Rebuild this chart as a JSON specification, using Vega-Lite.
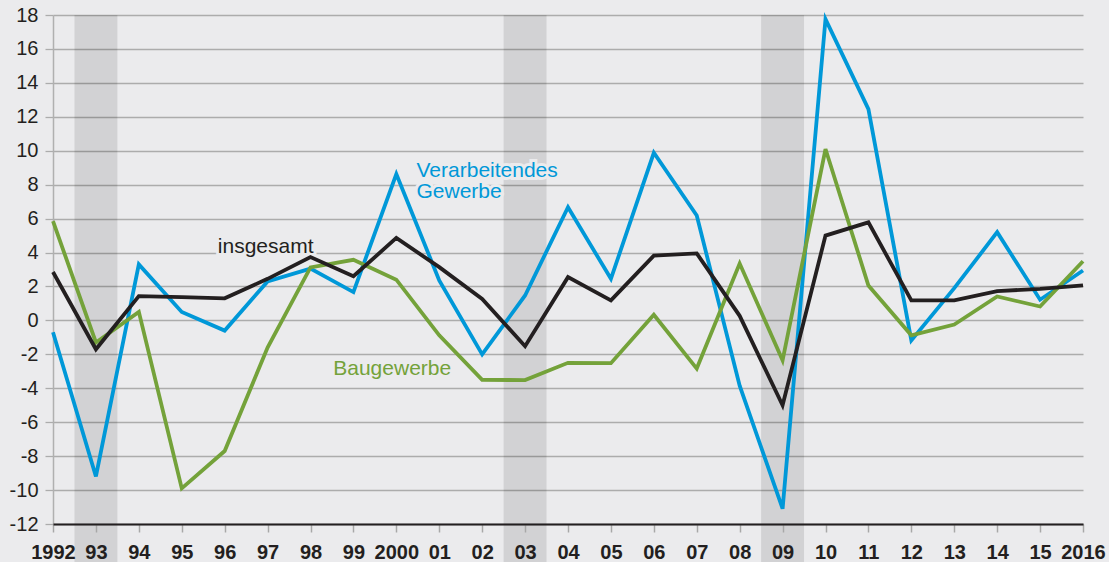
{
  "$schema": "https://vega.github.io/schema/vega-lite/v6.json",
  "width": 1030,
  "height": 509,
  "autosize": {"type": "none"},
  "padding": {"left": 53, "top": 15, "right": 26, "bottom": 38},
  "background": "#ebebed",
  "config": {
    "view": {"stroke": null, "fill": null},
    "font": "Liberation Sans",
    "text": {"font": "Liberation Sans"}
  },
  "datasets": {
    "series": [
      {"year": 1992, "vg": -0.7, "bau": 5.85, "ins": 2.85},
      {"year": 1993, "vg": -9.2, "bau": -1.3, "ins": -1.7},
      {"year": 1994, "vg": 3.3, "bau": 0.5, "ins": 1.43},
      {"year": 1995, "vg": 0.5, "bau": -9.9, "ins": 1.37},
      {"year": 1996, "vg": -0.6, "bau": -7.7, "ins": 1.3},
      {"year": 1997, "vg": 2.3, "bau": -1.6, "ins": 2.45},
      {"year": 1998, "vg": 3.05, "bau": 3.12, "ins": 3.73},
      {"year": 1999, "vg": 1.67, "bau": 3.57, "ins": 2.6},
      {"year": 2000, "vg": 8.63, "bau": 2.4, "ins": 4.86},
      {"year": 2001, "vg": 2.35, "bau": -0.88, "ins": 3.14},
      {"year": 2002, "vg": -2.0, "bau": -3.5, "ins": 1.27},
      {"year": 2003, "vg": 1.47, "bau": -3.52, "ins": -1.52},
      {"year": 2004, "vg": 6.67, "bau": -2.5, "ins": 2.55},
      {"year": 2005, "vg": 2.45, "bau": -2.52, "ins": 1.18},
      {"year": 2006, "vg": 9.88, "bau": 0.33, "ins": 3.82},
      {"year": 2007, "vg": 6.18, "bau": -2.84, "ins": 3.95},
      {"year": 2008, "vg": -3.85, "bau": 3.35, "ins": 0.27},
      {"year": 2009, "vg": -11.1, "bau": -2.35, "ins": -5.0},
      {"year": 2010, "vg": 17.76, "bau": 10.1, "ins": 5.0},
      {"year": 2011, "vg": 12.45, "bau": 2.06, "ins": 5.78},
      {"year": 2012, "vg": -1.18, "bau": -0.88, "ins": 1.18},
      {"year": 2013, "vg": 1.9, "bau": -0.24, "ins": 1.18},
      {"year": 2014, "vg": 5.2, "bau": 1.41, "ins": 1.73},
      {"year": 2015, "vg": 1.22, "bau": 0.82, "ins": 1.86},
      {"year": 2016, "vg": 2.94, "bau": 3.49, "ins": 2.06}
    ],
    "bands": [
      {"start": 1992.5, "end": 1993.5},
      {"start": 2002.5, "end": 2003.5},
      {"start": 2008.5, "end": 2009.5}
    ],
    "labels": [
      {"year": 1995.84, "value": 3.98, "text": "insgesamt", "series": "insgesamt"},
      {"year": 2000.47, "value": 8.43, "text": "Verarbeitendes", "series": "Verarbeitendes Gewerbe"},
      {"year": 2000.47, "value": 7.2, "text": "Gewerbe", "series": "Verarbeitendes Gewerbe"},
      {"year": 1998.53, "value": -3.24, "text": "Baugewerbe", "series": "Baugewerbe"}
    ]
  },
  "layer": [
    {
      "data": {"name": "bands"},
      "mark": {"type": "rect", "color": "#000000", "opacity": 0.105, "clip": false},
      "encoding": {
        "x": {"field": "start", "type": "quantitative",
          "scale": {"domain": [1992, 2016], "nice": false, "zero": false},
          "axis": {
            "values": [1992,1993,1994,1995,1996,1997,1998,1999,2000,2001,2002,2003,2004,2005,2006,2007,2008,2009,2010,2011,2012,2013,2014,2015,2016],
            "labelExpr": "(datum.value == 1992 || datum.value == 2000 || datum.value == 2016) ? '' + datum.value : slice('' + datum.value, 2)",
            "title": null, "grid": false, "domain": true, "domainColor": "#231f20", "domainWidth": 2,
            "ticks": true, "tickColor": "#a8a8a8", "tickWidth": 1.5, "tickSize": 8,
            "labelFont": "Liberation Sans", "labelFontSize": 20, "labelFontWeight": "bold", "labelColor": "#231f20",
            "labelPadding": 10, "labelOverlap": false, "labelFlush": false, "zindex": 1
          }
        },
        "x2": {"field": "end"},
        "y": {"datum": 18, "type": "quantitative",
          "scale": {"domain": [-12, 18], "nice": false, "zero": false},
          "axis": {
            "values": [-12,-10,-8,-6,-4,-2,0,2,4,6,8,10,12,14,16,18],
            "labelExpr": "'' + datum.value",
            "title": null, "grid": true, "gridColor": "#acacac", "gridWidth": 1.3,
            "domain": true, "domainColor": "#b0b0b0", "domainWidth": 1.5,
            "ticks": true, "tickColor": "#acacac", "tickWidth": 1.3, "tickSize": 8,
            "labelFont": "Liberation Sans", "labelFontSize": 20, "labelColor": "#231f20",
            "labelPadding": 7, "labelOverlap": false, "labelFlush": false, "zindex": 0
          }
        },
        "y2": {"datum": -14.3}
      }
    },
    {
      "data": {"name": "labels"},
      "mark": {"type": "text", "align": "left", "baseline": "alphabetic", "fontSize": 21, "font": "Liberation Sans", "stroke": "#ebebed", "strokeWidth": 6, "fill": "#ebebed"},
      "encoding": {
        "x": {"field": "year", "type": "quantitative",
          "axis": {
            "values": [1992,1993,1994,1995,1996,1997,1998,1999,2000,2001,2002,2003,2004,2005,2006,2007,2008,2009,2010,2011,2012,2013,2014,2015,2016],
            "labelExpr": "(datum.value == 1992 || datum.value == 2000 || datum.value == 2016) ? '' + datum.value : slice('' + datum.value, 2)",
            "title": null, "grid": false, "domain": true, "domainColor": "#231f20", "domainWidth": 2,
            "ticks": true, "tickColor": "#a8a8a8", "tickWidth": 1.5, "tickSize": 8,
            "labelFont": "Liberation Sans", "labelFontSize": 20, "labelFontWeight": "bold", "labelColor": "#231f20",
            "labelPadding": 10, "labelOverlap": false, "labelFlush": false, "zindex": 1
          }
        },
        "y": {"field": "value", "type": "quantitative",
          "axis": {
            "values": [-12,-10,-8,-6,-4,-2,0,2,4,6,8,10,12,14,16,18],
            "labelExpr": "'' + datum.value",
            "title": null, "grid": true, "gridColor": "#acacac", "gridWidth": 1.3,
            "domain": true, "domainColor": "#b0b0b0", "domainWidth": 1.5,
            "ticks": true, "tickColor": "#acacac", "tickWidth": 1.3, "tickSize": 8,
            "labelFont": "Liberation Sans", "labelFontSize": 20, "labelColor": "#231f20",
            "labelPadding": 7, "labelOverlap": false, "labelFlush": false, "zindex": 0
          }
        },
        "text": {"field": "text"}
      }
    },
    {
      "data": {"name": "labels"},
      "mark": {"type": "text", "align": "left", "baseline": "alphabetic", "fontSize": 21, "font": "Liberation Sans"},
      "encoding": {
        "x": {"field": "year", "type": "quantitative",
          "axis": {
            "values": [1992,1993,1994,1995,1996,1997,1998,1999,2000,2001,2002,2003,2004,2005,2006,2007,2008,2009,2010,2011,2012,2013,2014,2015,2016],
            "labelExpr": "(datum.value == 1992 || datum.value == 2000 || datum.value == 2016) ? '' + datum.value : slice('' + datum.value, 2)",
            "title": null, "grid": false, "domain": true, "domainColor": "#231f20", "domainWidth": 2,
            "ticks": true, "tickColor": "#a8a8a8", "tickWidth": 1.5, "tickSize": 8,
            "labelFont": "Liberation Sans", "labelFontSize": 20, "labelFontWeight": "bold", "labelColor": "#231f20",
            "labelPadding": 10, "labelOverlap": false, "labelFlush": false, "zindex": 1
          }
        },
        "y": {"field": "value", "type": "quantitative",
          "axis": {
            "values": [-12,-10,-8,-6,-4,-2,0,2,4,6,8,10,12,14,16,18],
            "labelExpr": "'' + datum.value",
            "title": null, "grid": true, "gridColor": "#acacac", "gridWidth": 1.3,
            "domain": true, "domainColor": "#b0b0b0", "domainWidth": 1.5,
            "ticks": true, "tickColor": "#acacac", "tickWidth": 1.3, "tickSize": 8,
            "labelFont": "Liberation Sans", "labelFontSize": 20, "labelColor": "#231f20",
            "labelPadding": 7, "labelOverlap": false, "labelFlush": false, "zindex": 0
          }
        },
        "text": {"field": "text"},
        "color": {"field": "series", "type": "nominal",
          "scale": {"domain": ["Verarbeitendes Gewerbe", "Baugewerbe", "insgesamt"], "range": ["#0098d8", "#74a23a", "#231f20"]},
          "legend": null}
      }
    },
    {
      "data": {"name": "series"},
      "mark": {"type": "line", "color": "#0098d8", "strokeWidth": 3.8, "strokeJoin": "miter"},
      "encoding": {
        "x": {"field": "year", "type": "quantitative",
          "axis": {
            "values": [1992,1993,1994,1995,1996,1997,1998,1999,2000,2001,2002,2003,2004,2005,2006,2007,2008,2009,2010,2011,2012,2013,2014,2015,2016],
            "labelExpr": "(datum.value == 1992 || datum.value == 2000 || datum.value == 2016) ? '' + datum.value : slice('' + datum.value, 2)",
            "title": null, "grid": false, "domain": true, "domainColor": "#231f20", "domainWidth": 2,
            "ticks": true, "tickColor": "#a8a8a8", "tickWidth": 1.5, "tickSize": 8,
            "labelFont": "Liberation Sans", "labelFontSize": 20, "labelFontWeight": "bold", "labelColor": "#231f20",
            "labelPadding": 10, "labelOverlap": false, "labelFlush": false, "zindex": 1
          }
        },
        "y": {"field": "vg", "type": "quantitative",
          "axis": {
            "values": [-12,-10,-8,-6,-4,-2,0,2,4,6,8,10,12,14,16,18],
            "labelExpr": "'' + datum.value",
            "title": null, "grid": true, "gridColor": "#acacac", "gridWidth": 1.3,
            "domain": true, "domainColor": "#b0b0b0", "domainWidth": 1.5,
            "ticks": true, "tickColor": "#acacac", "tickWidth": 1.3, "tickSize": 8,
            "labelFont": "Liberation Sans", "labelFontSize": 20, "labelColor": "#231f20",
            "labelPadding": 7, "labelOverlap": false, "labelFlush": false, "zindex": 0
          }
        }
      }
    },
    {
      "data": {"name": "series"},
      "mark": {"type": "line", "color": "#74a23a", "strokeWidth": 3.8, "strokeJoin": "miter"},
      "encoding": {
        "x": {"field": "year", "type": "quantitative",
          "axis": {
            "values": [1992,1993,1994,1995,1996,1997,1998,1999,2000,2001,2002,2003,2004,2005,2006,2007,2008,2009,2010,2011,2012,2013,2014,2015,2016],
            "labelExpr": "(datum.value == 1992 || datum.value == 2000 || datum.value == 2016) ? '' + datum.value : slice('' + datum.value, 2)",
            "title": null, "grid": false, "domain": true, "domainColor": "#231f20", "domainWidth": 2,
            "ticks": true, "tickColor": "#a8a8a8", "tickWidth": 1.5, "tickSize": 8,
            "labelFont": "Liberation Sans", "labelFontSize": 20, "labelFontWeight": "bold", "labelColor": "#231f20",
            "labelPadding": 10, "labelOverlap": false, "labelFlush": false, "zindex": 1
          }
        },
        "y": {"field": "bau", "type": "quantitative",
          "axis": {
            "values": [-12,-10,-8,-6,-4,-2,0,2,4,6,8,10,12,14,16,18],
            "labelExpr": "'' + datum.value",
            "title": null, "grid": true, "gridColor": "#acacac", "gridWidth": 1.3,
            "domain": true, "domainColor": "#b0b0b0", "domainWidth": 1.5,
            "ticks": true, "tickColor": "#acacac", "tickWidth": 1.3, "tickSize": 8,
            "labelFont": "Liberation Sans", "labelFontSize": 20, "labelColor": "#231f20",
            "labelPadding": 7, "labelOverlap": false, "labelFlush": false, "zindex": 0
          }
        }
      }
    },
    {
      "data": {"name": "series"},
      "mark": {"type": "line", "color": "#231f20", "strokeWidth": 3.8, "strokeJoin": "miter"},
      "encoding": {
        "x": {"field": "year", "type": "quantitative",
          "axis": {
            "values": [1992,1993,1994,1995,1996,1997,1998,1999,2000,2001,2002,2003,2004,2005,2006,2007,2008,2009,2010,2011,2012,2013,2014,2015,2016],
            "labelExpr": "(datum.value == 1992 || datum.value == 2000 || datum.value == 2016) ? '' + datum.value : slice('' + datum.value, 2)",
            "title": null, "grid": false, "domain": true, "domainColor": "#231f20", "domainWidth": 2,
            "ticks": true, "tickColor": "#a8a8a8", "tickWidth": 1.5, "tickSize": 8,
            "labelFont": "Liberation Sans", "labelFontSize": 20, "labelFontWeight": "bold", "labelColor": "#231f20",
            "labelPadding": 10, "labelOverlap": false, "labelFlush": false, "zindex": 1
          }
        },
        "y": {"field": "ins", "type": "quantitative",
          "axis": {
            "values": [-12,-10,-8,-6,-4,-2,0,2,4,6,8,10,12,14,16,18],
            "labelExpr": "'' + datum.value",
            "title": null, "grid": true, "gridColor": "#acacac", "gridWidth": 1.3,
            "domain": true, "domainColor": "#b0b0b0", "domainWidth": 1.5,
            "ticks": true, "tickColor": "#acacac", "tickWidth": 1.3, "tickSize": 8,
            "labelFont": "Liberation Sans", "labelFontSize": 20, "labelColor": "#231f20",
            "labelPadding": 7, "labelOverlap": false, "labelFlush": false, "zindex": 0
          }
        }
      }
    }
  ]
}
